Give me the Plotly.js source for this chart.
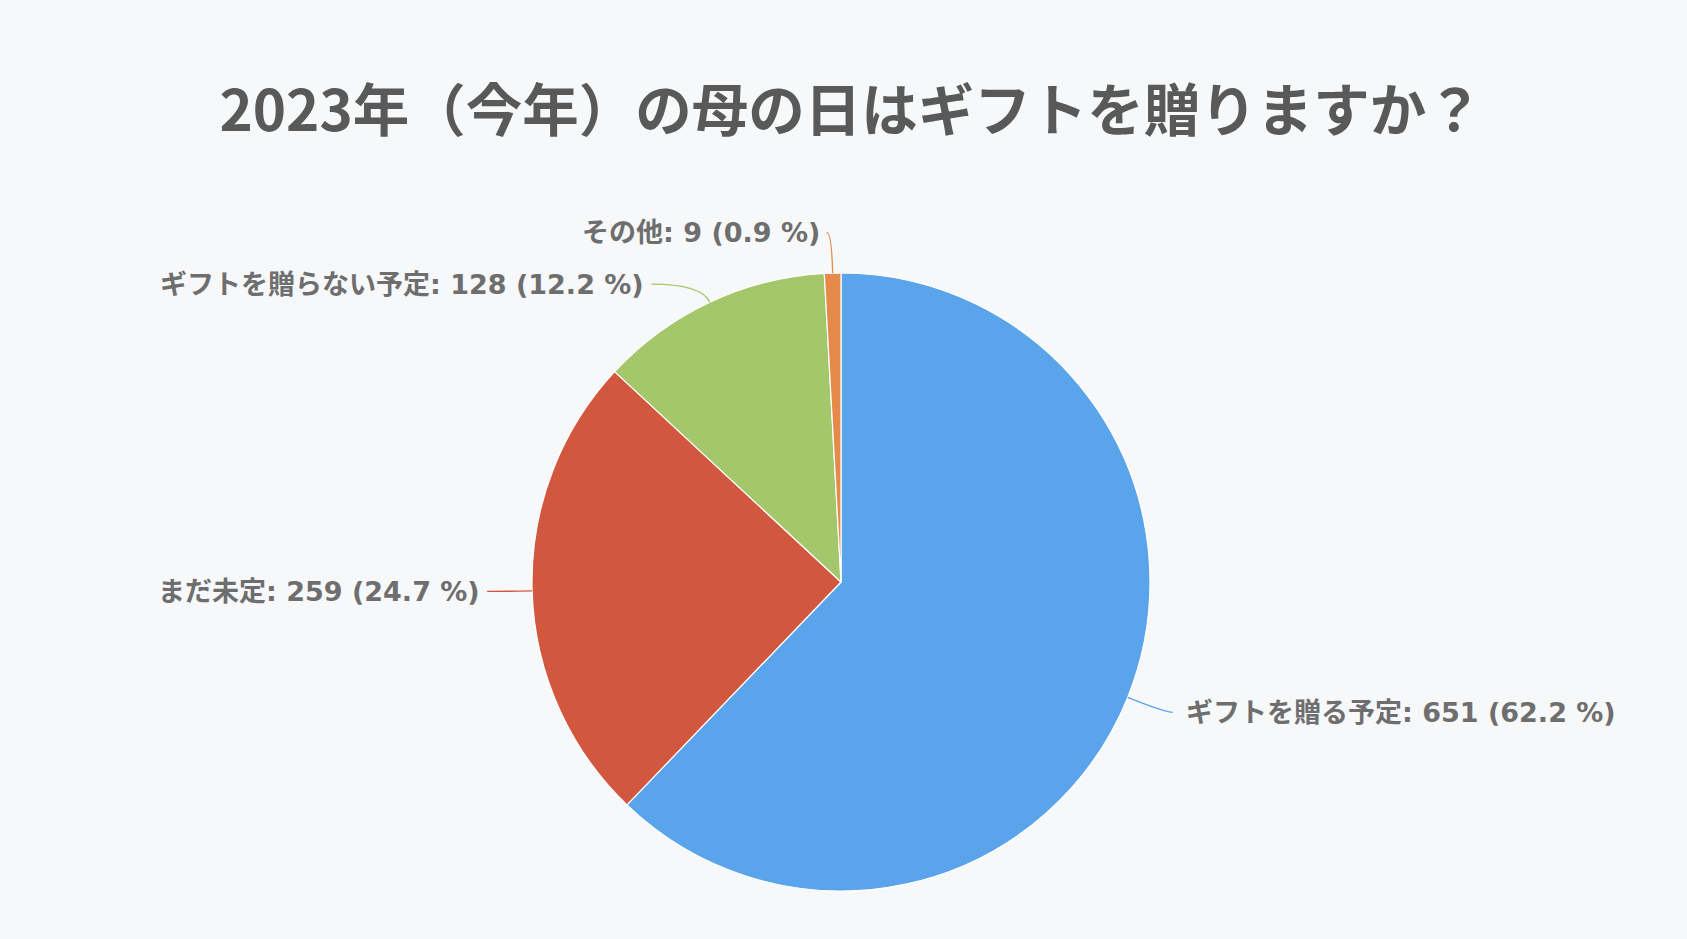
<!DOCTYPE html>
<html>
<head>
<meta charset="utf-8">
<script src="https://cdn.plot.ly/plotly-3.0.1.min.js"></script>
<style>
html,body{margin:0;padding:0;background:#f6f8fa;}
#chart{width:1687px;height:939px;}
</style>
</head>
<body>
<div id="chart"></div>
<script>
// ---- data ----
const labels = ["ギフトを贈る予定", "まだ未定", "ギフトを贈らない予定", "その他"];
const values = [651, 259, 128, 9];
const colors = ["#5aa4ec", "#d2573f", "#a5c76b", "#e58a4b"];
const chartTitle = "2023年（今年）の母の日はギフトを贈りますか？";

// ---- layout geometry (pixels) ----
const W = 1687, H = 939;
const CX = 841, CY = 582, R = 309;
// leader line lengths per slice: radial part, horizontal part
const lead1 = [40, 20, 20, 41];
const lead2 = [8, 25, 50, 5];
const gapRight = 11, gapLeft = 5;

const total = values.reduce((a, b) => a + b, 0);
const px = x => x / W;
const py = y => 1 - y / H;

const shapes = [];
const annotations = [];
let cum = 0;
values.forEach((v, i) => {
  const mid = (cum + v / 2) / total * 2 * Math.PI; // clockwise from 12 o'clock
  cum += v;
  const ux = Math.sin(mid), uy = -Math.cos(mid);
  const x0 = CX + R * ux, y0 = CY + R * uy;
  const x1 = CX + (R + lead1[i]) * ux, y1 = CY + (R + lead1[i]) * uy;
  const side = ux >= 0 ? 1 : -1;
  const x2 = x1 + side * lead2[i], y2 = y1;
  shapes.push({
    type: "path", xref: "paper", yref: "paper",
    path: `M ${px(x0)},${py(y0)} Q ${px(x1)},${py(y1)} ${px(x2)},${py(y2)}`,
    line: {color: colors[i], width: 1.3}
  });
  const pct = (v / total * 100).toFixed(1);
  annotations.push({
    xref: "paper", yref: "paper",
    x: px(x2 + side * (side > 0 ? gapRight : gapLeft)), y: py(y2),
    xanchor: side > 0 ? "left" : "right", yanchor: "middle",
    showarrow: false,
    text: `${labels[i]}: ${v} (${pct} %)`,
    font: {family: "DejaVu Sans, Noto Sans CJK JP, sans-serif", size: 27, color: "#6e6e6e", weight: 700}
  });
});

const trace = {
  type: "pie",
  labels: labels,
  values: values,
  sort: false,
  direction: "clockwise",
  rotation: 0,
  textinfo: "none",
  hoverinfo: "skip",
  marker: {colors: colors, line: {color: "#ffffff", width: 1.2}},
  domain: {x: [px(CX - R), px(CX + R)], y: [py(CY + R), py(CY - R)]},
  showlegend: false
};

const layout = {
  width: W, height: H,
  margin: {l: 0, r: 0, t: 0, b: 0},
  paper_bgcolor: "#f6f8fa",
  plot_bgcolor: "#f6f8fa",
  showlegend: false,
  title: {
    text: chartTitle,
    x: 0.5045, xanchor: "center",
    y: 1 - 111 / H, yanchor: "middle", yref: "container",
    font: {family: "Noto Sans CJK JP, Noto Sans, sans-serif", size: 56.5, color: "#595959", weight: 700}
  },
  shapes: shapes,
  annotations: annotations
};

Plotly.newPlot("chart", [trace], layout, {displayModeBar: false, staticPlot: true});
</script>
</body>
</html>
